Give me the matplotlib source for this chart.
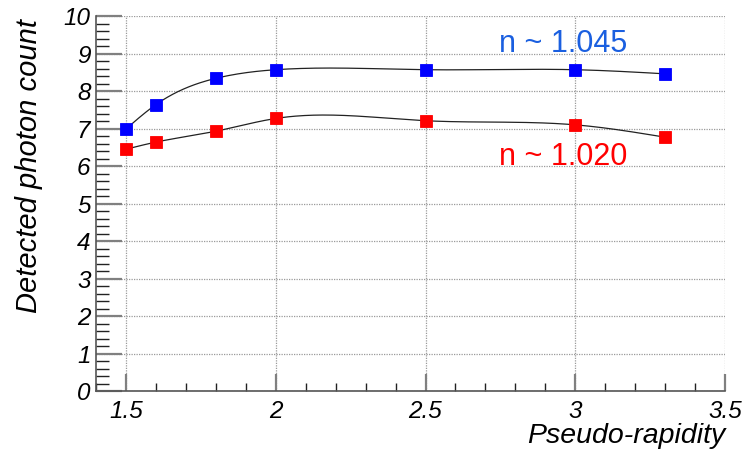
import numpy as np
import matplotlib
matplotlib.use("Agg")
import matplotlib.pyplot as plt
from matplotlib.ticker import MultipleLocator

plt.rcParams['font.family'] = ['Liberation Sans', 'DejaVu Sans']

# data
eta = [1.5, 1.6, 1.8, 2.0, 2.5, 3.0, 3.3]
count_1045 = [7.00, 7.65, 8.35, 8.58, 8.58, 8.58, 8.47]
count_1020 = [6.46, 6.65, 6.94, 7.28, 7.22, 7.11, 6.78]
label_1045 = "n ~ 1.045"
label_1020 = "n ~ 1.020"


def natural_spline(x, y, n=300):
    # natural cubic spline, like ROOT's "C" draw option
    x = np.asarray(x, float)
    y = np.asarray(y, float)
    k = len(x)
    h = np.diff(x)
    A = np.zeros((k, k))
    b = np.zeros(k)
    A[0, 0] = A[-1, -1] = 1
    for i in range(1, k - 1):
        A[i, i - 1] = h[i - 1]
        A[i, i] = 2 * (h[i - 1] + h[i])
        A[i, i + 1] = h[i]
        b[i] = 3 * ((y[i + 1] - y[i]) / h[i] - (y[i] - y[i - 1]) / h[i - 1])
    c = np.linalg.solve(A, b)
    xs = np.linspace(x[0], x[-1], n)
    idx = np.clip(np.searchsorted(x, xs) - 1, 0, k - 2)
    dx = xs - x[idx]
    bb = (y[1:] - y[:-1]) / h - h * (2 * c[:-1] + c[1:]) / 3
    dd = (c[1:] - c[:-1]) / (3 * h)
    ys = y[idx] + bb[idx] * dx + c[idx] * dx ** 2 + dd[idx] * dx ** 3
    return xs, ys


fig = plt.figure(figsize=(7.45, 4.51), dpi=100)
ax = fig.add_axes([0.1289, 0.132, 0.8443, 0.8315])

for ys, col in [(count_1045, "#0000ff"), (count_1020, "#ff0000")]:
    sx, sy = natural_spline(eta, ys)
    ax.plot(sx, sy, color="#222222", lw=0.9, zorder=3)
    ax.plot(eta, ys, ls="none", marker="s", ms=8, color=col,
            mec=col, mew=0.6, zorder=4)

ax.text(2.745, 9.05, label_1045, color="#1a5fe0", fontsize=22, ha="left", va="baseline")
ax.text(2.745, 6.05, label_1020, color="#ff0000", fontsize=22, ha="left", va="baseline")

ax.set_xlim(1.4, 3.5)
ax.set_ylim(0, 10)
ax.xaxis.set_major_locator(MultipleLocator(0.5))
ax.xaxis.set_minor_locator(MultipleLocator(0.1))
ax.yaxis.set_major_locator(MultipleLocator(1))
ax.yaxis.set_minor_locator(MultipleLocator(0.2))
ax.set_xticks([1.5, 2, 2.5, 3, 3.5])
ax.set_xticklabels(["1.5", "2", "2.5", "3", "3.5"])

ax.grid(True, which="major", color="#9a9a9a", ls=(0, (1, 1)), lw=0.9)
ax.set_axisbelow(True)

for s in ["top", "right"]:
    ax.spines[s].set_visible(False)
for s in ["left", "bottom"]:
    ax.spines[s].set_color("#555555")
    ax.spines[s].set_linewidth(1.2)

ax.tick_params(axis="y", which="major", direction="in", length=19, width=1.6,
               color="#808080", labelsize=17.5, pad=4)
ax.tick_params(axis="y", which="minor", direction="in", length=9, width=1,
               color="#222222")
ax.tick_params(axis="x", which="major", direction="in", length=12, width=1.6,
               color="#808080", labelsize=17.5, pad=6)
ax.tick_params(axis="x", which="minor", direction="in", length=6, width=1,
               color="#222222")
for lab in ax.get_xticklabels() + ax.get_yticklabels():
    lab.set_fontstyle("italic")

ax.set_xlabel("Pseudo-rapidity", fontsize=20.5, style="italic", loc="right")
ax.xaxis.set_label_coords(1.0, -0.084)
ax.xaxis.label.set_va("top")
ax.set_ylabel("Detected photon count", fontsize=21, style="italic", loc="bottom")
ax.yaxis.set_label_coords(-0.084, 0.209)

fig.savefig("out.png", dpi=100)
